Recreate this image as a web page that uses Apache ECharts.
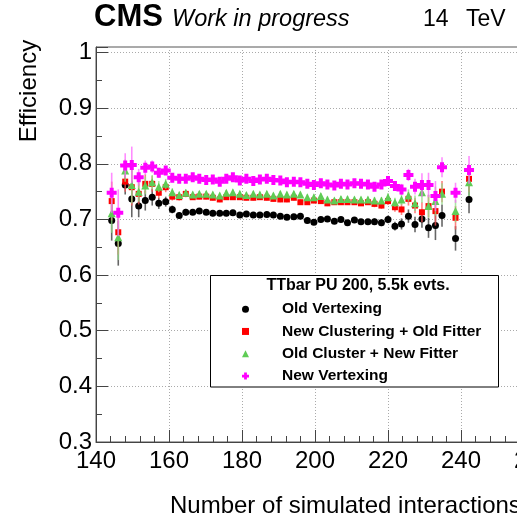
<!DOCTYPE html>
<html><head><meta charset="utf-8">
<script src="https://cdn.jsdelivr.net/npm/echarts@6/dist/echarts.min.js"></script>
<style>html,body{margin:0;padding:0;background:#fff}#c{width:517px;height:516px}</style>
</head><body><div id="c"></div>
<script>
const xValues = [144.3,146.1,148.0,149.8,151.7,153.5,155.4,157.2,159.1,160.9,
 162.8,164.6,166.5,168.3,170.2,172.0,173.9,175.7,177.5,179.4,
 181.2,183.1,184.9,186.8,188.6,190.5,192.3,194.2,196.0,197.9,
 199.7,201.6,203.4,205.3,207.1,208.9,210.8,212.6,214.5,216.3,
 218.2,220.0,221.9,223.7,225.6,227.4,229.3,231.1,233.0,234.8,
 238.5,242.2];

const oldVertexing = [0.698,0.657,0.762,0.737,0.724,0.734,0.740,0.729,0.732,0.718,
 0.707,0.713,0.713,0.715,0.713,0.711,0.711,0.711,0.712,0.708,
 0.710,0.708,0.708,0.709,0.708,0.706,0.704,0.705,0.706,0.698,
 0.695,0.700,0.701,0.697,0.700,0.694,0.699,0.696,0.696,0.696,
 0.694,0.700,0.688,0.692,0.706,0.691,0.701,0.685,0.689,0.707,
 0.666,0.736];
const newClusteringOldFitter = [0.733,0.677,0.768,0.758,0.746,0.764,0.764,0.748,0.758,0.741,
 0.740,0.746,0.740,0.741,0.741,0.739,0.736,0.740,0.740,0.740,
 0.739,0.739,0.740,0.739,0.737,0.736,0.736,0.739,0.731,0.731,
 0.734,0.733,0.729,0.731,0.731,0.731,0.731,0.729,0.731,0.728,
 0.725,0.733,0.722,0.718,0.737,0.725,0.713,0.724,0.715,0.750,
 0.703,0.773];
const oldClusterNewFitter = [0.711,0.668,0.788,0.762,0.750,0.761,0.767,0.759,0.764,0.749,
 0.744,0.748,0.745,0.746,0.746,0.745,0.743,0.748,0.749,0.746,
 0.744,0.746,0.745,0.746,0.743,0.746,0.745,0.746,0.745,0.740,
 0.740,0.742,0.736,0.734,0.737,0.737,0.736,0.736,0.736,0.734,
 0.734,0.740,0.731,0.736,0.743,0.729,0.749,0.724,0.733,0.746,
 0.715,0.767];
const newVertexing = [0.748,0.712,0.797,0.798,0.776,0.793,0.795,0.784,0.788,0.775,
 0.773,0.773,0.776,0.773,0.771,0.772,0.768,0.773,0.776,0.770,
 0.773,0.769,0.772,0.773,0.771,0.770,0.767,0.768,0.767,0.764,
 0.762,0.765,0.763,0.761,0.764,0.763,0.765,0.764,0.763,0.759,
 0.763,0.769,0.760,0.754,0.780,0.759,0.762,0.762,0.742,0.794,
 0.748,0.789];

const errOldVertexing = [0.036,0.040,0.017,0.033,0.020,0.018,0.015,0.010,0.009,0.007,
 0.006,0.006,0.005,0.005,0.005,0.005,0.005,0.005,0.005,0.005,
 0.005,0.005,0.005,0.005,0.005,0.005,0.005,0.005,0.005,0.005,
 0.005,0.005,0.005,0.005,0.005,0.005,0.005,0.005,0.005,0.006,
 0.006,0.007,0.008,0.010,0.012,0.014,0.016,0.018,0.026,0.020,
 0.022,0.025];
const errNewClusteringOldFitter = [0.035,0.040,0.018,0.033,0.019,0.017,0.014,0.010,0.009,0.007,
 0.006,0.006,0.005,0.005,0.005,0.005,0.005,0.005,0.005,0.005,
 0.005,0.005,0.005,0.005,0.005,0.005,0.005,0.005,0.005,0.005,
 0.005,0.005,0.005,0.005,0.005,0.005,0.005,0.005,0.005,0.006,
 0.006,0.007,0.008,0.010,0.012,0.014,0.018,0.020,0.026,0.019,
 0.021,0.024];
const errOldClusterNewFitter = [0.035,0.041,0.020,0.033,0.018,0.016,0.013,0.010,0.009,0.007,
 0.006,0.006,0.005,0.005,0.005,0.005,0.005,0.005,0.005,0.005,
 0.005,0.005,0.005,0.005,0.005,0.005,0.005,0.005,0.005,0.005,
 0.005,0.005,0.005,0.005,0.005,0.005,0.005,0.005,0.005,0.006,
 0.006,0.007,0.008,0.010,0.011,0.014,0.019,0.021,0.026,0.019,
 0.020,0.025];
const errNewVertexing = [0.036,0.042,0.022,0.033,0.015,0.013,0.011,0.009,0.008,0.007,
 0.006,0.006,0.005,0.005,0.005,0.005,0.005,0.005,0.005,0.005,
 0.005,0.005,0.005,0.005,0.005,0.005,0.005,0.005,0.005,0.005,
 0.005,0.005,0.005,0.005,0.005,0.005,0.005,0.005,0.005,0.006,
 0.006,0.007,0.008,0.010,0.011,0.014,0.021,0.022,0.027,0.018,
 0.018,0.025];

const seriesNames = ['Old Vertexing','New Clustering + Old Fitter','Old Cluster + New Fitter','New Vertexing'];
const legendTitle = 'TTbar PU 200, 5.5k evts.';

const FONT = 'Liberation Sans, Arial, Helvetica, sans-serif';
const crossPath = 'path://M3,0H7V3H10V7H7V10H3V7H0V3H3Z';

const defs = [
  {name: seriesNames[0], vals: oldVertexing, errs: errOldVertexing, color: '#000000', bar: '#333333', symbol: 'circle', size: 7},
  {name: seriesNames[1], vals: newClusteringOldFitter, errs: errNewClusteringOldFitter, color: '#ff0000', bar: '#ff5555', symbol: 'rect', size: 6},
  {name: seriesNames[2], vals: oldClusterNewFitter, errs: errOldClusterNewFitter, color: '#5fcc55', bar: '#8fdc85', symbol: 'triangle', size: 8},
  {name: seriesNames[3], vals: newVertexing, errs: errNewVertexing, color: '#ff00ff', bar: '#ff66ff', symbol: crossPath, size: 10}
];

const series = [];
defs.forEach((d, k) => {
  series.push({
    type: 'custom', silent: true, z: 2 + k * 2,
    data: xValues.map((x, i) => [x, d.vals[i], d.vals[i] - d.errs[i], d.vals[i] + d.errs[i]]),
    encode: {x: 0, y: [1, 2, 3]},
    renderItem: function (params, api) {
      const lo = api.coord([api.value(0), api.value(2)]);
      const hi = api.coord([api.value(0), api.value(3)]);
      return {type: 'line', shape: {x1: lo[0], y1: lo[1], x2: hi[0], y2: hi[1]},
        style: {stroke: d.bar, lineWidth: 1.6, opacity: 0.75}};
    }
  });
  series.push({
    name: d.name, type: 'scatter', z: 3 + k * 2, silent: true,
    symbol: d.symbol, symbolSize: d.size,
    itemStyle: {color: d.color, opacity: 1},
    data: xValues.map((x, i) => [x, d.vals[i]])
  });
});

const chart = echarts.init(document.getElementById('c'), null, {renderer: 'canvas'});
chart.setOption({
  animation: false,
  backgroundColor: '#fff',
  grid: {left: 96, top: 47, width: 438, height: 395, outerBoundsMode: 'none', containLabel: false,
    show: true, borderColor: '#555', borderWidth: 1, backgroundColor: 'transparent'},
  xAxis: {
    type: 'value', min: 140, max: 260, interval: 20,
    axisLine: {show: true, lineStyle: {color: '#444', width: 1}},
    axisTick: {show: true, inside: true, length: 12, lineStyle: {color: '#444'}},
    minorTick: {show: true, splitNumber: 5, length: 6, lineStyle: {color: '#444'}},
    splitLine: {show: true, lineStyle: {color: '#aaa', type: [1, 2], width: 1}},
    axisLabel: {fontSize: 24, color: '#000', fontFamily: FONT, margin: 7}
  },
  yAxis: {
    type: 'value', min: 0.3, max: 1.01, interval: 0.1,
    axisLine: {show: true, lineStyle: {color: '#444', width: 1}},
    axisTick: {show: true, inside: true, length: 12, lineStyle: {color: '#444'}},
    minorTick: {show: true, splitNumber: 2, length: 6, lineStyle: {color: '#444'}},
    splitLine: {show: true, lineStyle: {color: '#aaa', type: [1, 2], width: 1}},
    axisLabel: {fontSize: 24, color: '#000', fontFamily: FONT, margin: 4, showMaxLabel: false,
      formatter: v => (Math.round(v * 10) / 10).toString()}
  },
  legend: {
    orient: 'vertical', left: 242, top: 298, padding: 0, z: 20,
    itemWidth: 7, itemHeight: 7, itemGap: 0, selectedMode: false,
    data: seriesNames,
    textStyle: {fontSize: 15.5, fontWeight: 'bold', fontFamily: FONT, color: '#000', lineHeight: 22.3, padding: [0, 0, 0, 28]}
  },
  graphic: [
    {type: 'rect', z: 10, shape: {x: 210.5, y: 275.5, width: 288, height: 111.5}, style: {fill: '#fff', stroke: '#000', lineWidth: 1}},
    {type: 'text', z: 21, style: {x: 358, y: 286, text: legendTitle, textAlign: 'center', textVerticalAlign: 'middle', fontSize: 16, fontWeight: 'bold', fontFamily: FONT, fill: '#000'}},
    {type: 'text', z: 21, style: {x: 94, y: 17.5, text: 'CMS', textAlign: 'left', textVerticalAlign: 'middle', fontSize: 31, fontWeight: 'bold', fontFamily: FONT, fill: '#000'}},
    {type: 'text', z: 21, style: {x: 172, y: 19.5, text: 'Work in progress', textAlign: 'left', textVerticalAlign: 'middle', fontSize: 23.5, fontStyle: 'italic', fontFamily: FONT, fill: '#000'}},
    {type: 'text', z: 21, style: {x: 423, y: 19.5, text: '14', textAlign: 'left', textVerticalAlign: 'middle', fontSize: 23, fontFamily: FONT, fill: '#000'}},
    {type: 'text', z: 21, style: {x: 466, y: 19.5, text: 'TeV', textAlign: 'left', textVerticalAlign: 'middle', fontSize: 23, fontFamily: FONT, fill: '#000'}},
    {type: 'text', z: 21, x: 29, y: 91, rotation: Math.PI / 2, style: {x: 0, y: 0, text: 'Efficiency', textAlign: 'center', textVerticalAlign: 'middle', fontSize: 24, fontFamily: FONT, fill: '#000'}},
    {type: 'text', z: 21, style: {x: 170, y: 506, text: 'Number of simulated interactions', textAlign: 'left', textVerticalAlign: 'middle', fontSize: 24, fontFamily: FONT, fill: '#000'}}
  ],
  series: series
});
</script></body></html>
